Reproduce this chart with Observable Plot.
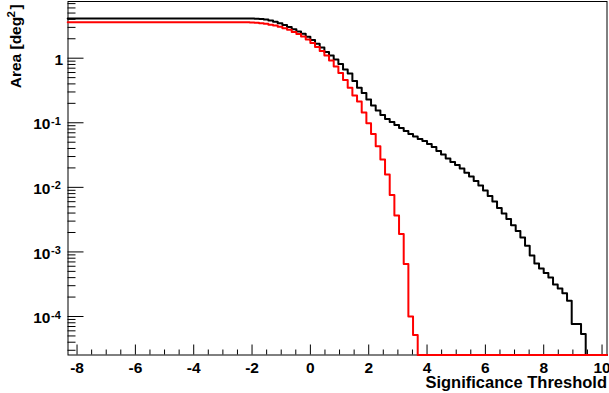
<!DOCTYPE html>
<html><head><meta charset="utf-8">
<script src="https://cdn.jsdelivr.net/npm/d3@7"></script>
<script src="https://cdn.jsdelivr.net/npm/@observablehq/plot@0.6"></script>
<style>html,body{margin:0;padding:0;background:#fff}svg{display:block}</style>
</head><body><div id="chart"></div>
<script>
// Histogram bin lower edges (significance threshold); last entry closes the final bin
const binEdges = [-8.32, -2.08, -1.92, -1.76, -1.60, -1.44, -1.28, -1.12, -0.96, -0.80, -0.64, -0.48, -0.32, -0.16,
  0.00, 0.16, 0.32, 0.48, 0.64, 0.80, 0.96, 1.12, 1.28, 1.44, 1.60, 1.76, 1.92, 2.08, 2.24, 2.40, 2.56, 2.72, 2.88,
  3.04, 3.20, 3.36, 3.52, 3.68, 3.84, 4.00, 4.16, 4.32, 4.48, 4.64, 4.80, 4.96, 5.12, 5.28, 5.44, 5.60, 5.76, 5.92,
  6.08, 6.24, 6.40, 6.56, 6.72, 6.88, 7.04, 7.20, 7.36, 7.52, 7.68, 7.84, 8.00, 8.16, 8.32, 8.48, 8.64, 8.80, 8.96,
  9.12, 9.28, 9.44, 10.17];
// Area [deg^2] above threshold, black histogram
const blackArea = [4.10, 4.10, 4.09, 4.06, 3.99, 3.85, 3.66, 3.48, 3.27, 3.05, 2.81, 2.60, 2.39, 2.14,
  1.91, 1.67, 1.459, 1.243, 1.097, 0.951, 0.810, 0.666, 0.577, 0.442, 0.350, 0.288, 0.229, 0.1846, 0.1544, 0.1315, 0.114, 0.1024, 0.0921,
  0.0827, 0.0743, 0.0673, 0.0611, 0.0563, 0.0520, 0.0468, 0.0420, 0.0364, 0.0322, 0.0279, 0.0246, 0.0221, 0.0195, 0.0169, 0.01467, 0.0125, 0.01065, 0.00891,
  0.00732, 0.00602, 0.00477, 0.00392, 0.00323, 0.00260, 0.00210, 0.00167, 0.00125, 0.000877, 0.00066, 0.000552, 0.00047, 0.000401, 0.000312, 0.000271, 0.000229, 0.000176, 0.0000769,
  0.0000769, 0.0000538, 0, 0];
// Area [deg^2] above threshold, red histogram
const redArea = [3.60, 3.56, 3.53, 3.48, 3.41, 3.31, 3.20, 3.06, 2.92, 2.75, 2.55, 2.36, 2.16, 1.94,
  1.713, 1.485, 1.288, 1.097, 0.918, 0.741, 0.588, 0.458, 0.350, 0.2636, 0.2128, 0.1438, 0.0982, 0.0673, 0.0432, 0.0269, 0.01576, 0.00764, 0.00365,
  0.00190, 0.000653, 0.0000997, 0.0000519, 0, 0, 0, 0, 0, 0, 0, 0, 0, 0, 0, 0, 0, 0, 0,
  0, 0, 0, 0, 0, 0, 0, 0, 0, 0, 0, 0, 0, 0, 0, 0, 0, 0, 0,
  0, 0, 0, 0];
const xTickValues = [-8, -6, -4, -2, 0, 2, 4, 6, 8, 10];
const xTickLabels = ["-8", "-6", "-4", "-2", "0", "2", "4", "6", "8", "10"];
const yTickValues = [1, 0.1, 0.01, 0.001, 0.0001];
const yTickBase = ["1", "10", "10", "10", "10"];
const yTickExp = ["", "-1", "-2", "-3", "-4"];
const xTitle = "Significance Threshold";
const yTitleMain = "Area [deg";
const yTitleSup = "2";
const yTitleEnd = "]";

const W = 609, H = 393;
const mL = 67.5, mR = 2.5, mT = 1, mB = 38.5;
const plotW = W - mL - mR, plotH = H - mT - mB;
const xDomain = [-8.31, 10.17];
const yDomain = [2.535e-5, 7.55];

const black = binEdges.map((x, i) => ({x, v: blackArea[i]}));
const red = binEdges.map((x, i) => ({x, v: redArea[i]}));
const yv = d => d.v > 0 ? d.v : yDomain[0];

const xMinor = d3.range(-8, 10.2, 0.5).filter(t => Math.abs(t % 2) > 1e-9 && t > xDomain[0] && t < xDomain[1]);
const yMinor = [];
for (let e = -5; e <= 0; e++) for (let m = 2; m <= 9; m++) {
  const v = m * Math.pow(10, e);
  if (v > yDomain[0] && v < yDomain[1]) yMinor.push(v);
}
const yLab = yTickValues.map((v, i) => ({v, base: yTickBase[i], exp: yTickExp[i]}));
const font = "'Liberation Sans', Arial, Helvetica, sans-serif";
const LBL = 15.5;

const chart = Plot.plot({
  width: W, height: H,
  marginLeft: mL, marginRight: mR, marginTop: mT, marginBottom: mB,
  x: {domain: xDomain, axis: null},
  y: {type: "log", domain: yDomain, axis: null},
  style: {fontFamily: font, fontWeight: "bold", background: "white", color: "black", overflow: "visible"},
  marks: [
    Plot.frame({stroke: "black", strokeWidth: 1}),
    Plot.tickX(xTickValues, {x: d => d, insetTop: plotH - 10, stroke: "black"}),
    Plot.tickX(xMinor, {x: d => d, insetTop: plotH - 5, stroke: "black"}),
    Plot.tickY(yTickValues, {y: d => d, insetRight: plotW - 16, stroke: "black"}),
    Plot.tickY(yMinor, {y: d => d, insetRight: plotW - 8, stroke: "black"}),
    Plot.line(black, {x: "x", y: yv, curve: "step-after", stroke: "black", strokeWidth: 2}),
    Plot.line(red, {x: "x", y: yv, curve: "step-after", stroke: "#ff0000", strokeWidth: 2}),
    Plot.text(xTickValues, {x: d => d, text: (d, i) => xTickLabels[i], frameAnchor: "bottom", lineAnchor: "top", dy: 6.5, fontSize: LBL, fontWeight: "bold", fill: "black"}),
    Plot.text(yLab.filter(d => d.exp === ""), {y: "v", text: "base", frameAnchor: "left", textAnchor: "end", lineAnchor: "bottom", dx: -4.8, dy: 7.0, fontSize: LBL, fontWeight: "bold", fill: "black"}),
    Plot.text(yLab.filter(d => d.exp !== ""), {y: "v", text: "base", frameAnchor: "left", textAnchor: "end", lineAnchor: "bottom", dx: -17.5, dy: 6.6, fontSize: LBL, fontWeight: "bold", fill: "black"}),
    Plot.text(yLab.filter(d => d.exp !== ""), {y: "v", text: "exp", frameAnchor: "left", textAnchor: "start", lineAnchor: "bottom", dx: -17, dy: 2.0, fontSize: 11, fontWeight: "bold", fill: "black"}),
    Plot.text([xTitle], {text: d => d, frameAnchor: "bottom-right", textAnchor: "end", lineAnchor: "bottom", dx: 0, dy: 33, fontSize: 16.5, fontWeight: "bold", fill: "black"}),
    Plot.text([yTitleMain], {text: d => d, frameAnchor: "top-left", rotate: -90, textAnchor: "start", lineAnchor: "bottom", dx: -47.5, dy: 86.8, fontSize: 15.5, fontWeight: "bold", fill: "black"}),
    Plot.text([yTitleSup], {text: d => d, frameAnchor: "top-left", rotate: -90, textAnchor: "start", lineAnchor: "bottom", dx: -53.5, dy: 16, fontSize: 11.5, fontWeight: "bold", fill: "black"}),
    Plot.text([yTitleEnd], {text: d => d, frameAnchor: "top-left", rotate: -90, textAnchor: "start", lineAnchor: "bottom", dx: -47.5, dy: 8, fontSize: 15.5, fontWeight: "bold", fill: "black"})
  ]
});
document.getElementById("chart").appendChild(chart);
</script>
</body></html>
